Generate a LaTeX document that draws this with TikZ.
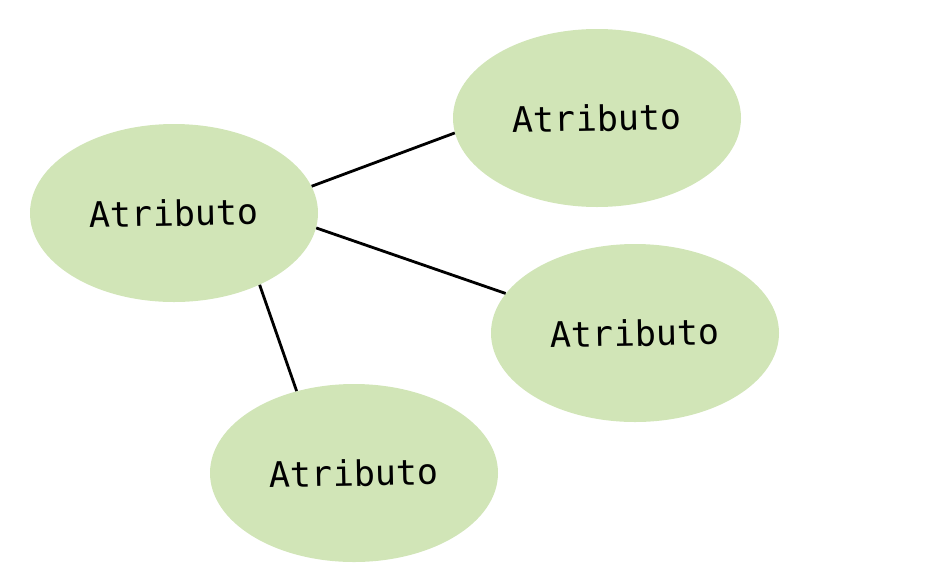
\documentclass[tikz,border=0pt]{standalone}
\usepackage{fontspec}
\usepackage{tikz}
\usetikzlibrary{shapes.geometric}
\newfontfamily\monofont{DejaVu Sans Mono}
\tikzset{atributo/.style = {ellipse, fill=verdeclaro, draw=none,
                            minimum width=7.2cm, minimum height=4.45cm, inner sep=0pt,
                            font=\monofont\fontsize{25}{29}\selectfont},
         enlace/.style = {line width=2pt, black}}
\definecolor{verdeclaro}{RGB}{209, 229, 183}

\begin{document}
\begin{tikzpicture}
    \useasboundingbox (0, 0) rectangle (23.625, -14.4);

    \node [atributo] (principal) at (4.35, -5.325) {\rotatebox{1.2}{Atributo}};
    \node [atributo] (arriba) at (14.925, -2.95) {\rotatebox{1.2}{Atributo}};
    \node [atributo] (medio) at (15.875, -8.325) {\rotatebox{1.2}{Atributo}};
    \node [atributo] (abajo) at (8.85, -11.825) {\rotatebox{1.2}{Atributo}};

    \draw [enlace] (principal.11.5) -- (arriba.186.5);
    \draw [enlace] (principal.-6.5) -- (medio.163.6);
    \draw [enlace] (principal.-40.5) -- (abajo.125);
  \end{tikzpicture}
\end{document}
